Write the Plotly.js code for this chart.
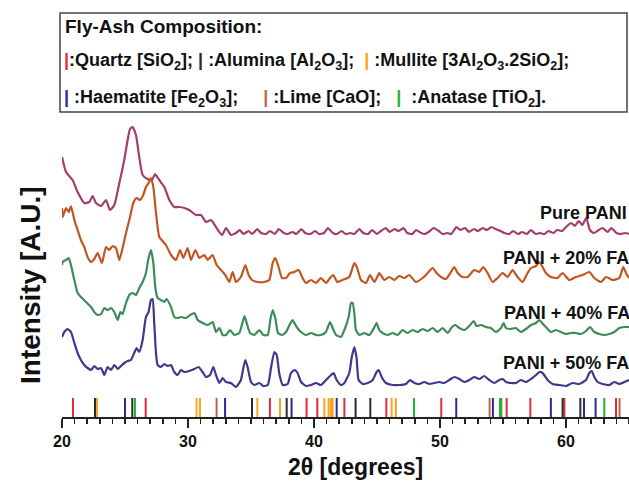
<!DOCTYPE html>
<html>
<head>
<meta charset="utf-8">
<script src="https://cdn.plot.ly/plotly-3.0.1.min.js"></script>
<style>html,body{margin:0;padding:0;background:#fff;}#chart{width:629px;height:487px;}</style>
</head>
<body>
<div id="chart"></div>
<script>
// ---- Data (2θ in degrees, intensity in arbitrary units, offset curves as in the figure) ----
const pureX = [20,20.32,20.84,21.24,21.77,22.17,22.43,22.7,23.1,23.49,23.81,24.15,24.55,24.94,25.21,25.4,25.6,25.87,26.13,26.4,26.79,27.14,27.38,27.72,28.12,28.52,28.91,29.31,29.71,30.1,30.63,31.03,31.43,31.83,32.22,32.7,33.02,33.41,
33.8,34.1,34.4,34.8,35.1,35.5,35.8,36.2,36.5,36.9,37.2,37.6,37.9,38.3,38.6,39.0,39.3,39.7,40.1,40.4,40.8,41.1,41.5,41.8,42.2,42.5,42.9,43.2,43.6,43.9,44.3,44.6,45.0,45.3,45.7,46.0,46.4,46.7,47.1,47.4,47.8,48.1,48.5,48.8,49.2,49.5,49.9,50.2,50.6,50.9,51.3,51.6,52.0,52.3,52.7,53.0,53.4,53.7,54.1,54.4,54.8,55.1,55.5,55.8,56.2,56.5,56.9,57.2,57.6,57.9,58.3,58.6,59.0,59.3,59.7,60.0,60.4,60.7,61.0,61.3,61.6,61.9,62.2,62.6,62.9,63.3,63.6,64.0,64.3,64.7,65.0];
const pureY = [260,245,237,225,214,215,221,214,211,217,207,212,234,257,277,288,290,282,260,242,238,237,243,237,230,217,210,210,209,207,202,202,195,197,190,182,189,182,
184,187,183,186,183,188,184,183,186,183,188,184,183,185,183,188,184,183,186,183,184,189,184,183,186,183,184,183,188,184,183,187,183,186,189,185,188,186,189,184,183,187,184,183,186,189,186,183,184,183,190,187,189,185,188,186,189,187,190,188,186,184,183,186,183,185,183,187,183,184,183,186,184,187,186,190,194,191,196,192,199,187,184,187,189,185,189,184,183,184,183];

const fa20X = [20,20.05,20.32,20.53,20.71,20.98,21.24,21.5,21.77,22.03,22.3,22.56,22.83,23.17,23.49,23.75,24.02,24.28,24.55,24.81,25.08,25.4,25.66,25.92,26.19,26.45,26.66,26.87,27.06,27.25,27.46,27.72,27.98,28.25,28.65,29.05,29.37,29.63,29.97,30.24,30.58,30.9,31.3,31.56,31.95,32.27,32.62,32.96,33.28,33.54,33.81,34.2,34.55,34.81,35.08,35.52,36.05,36.45,36.72,36.93,37.19,37.46,37.78,38.1,38.44,38.78,39.1,39.36,39.76,40.16,40.55,40.95,41.27,41.53,41.85,42.25,42.8,43.2,43.4,43.73,44.13,44.44,44.8,45.18,45.58,45.97,46.37,46.77,47.17,47.56,48.09,48.62,49.02,49.42,49.73,50.08,50.48,50.87,51.13,51.4,51.8,52.19,52.72,53.12,53.43,53.78,54.17,54.57,54.97,55.36,55.76,56.16,56.56,56.95,57.22,57.62,57.88,58.14,58.4,58.8,59.33,59.73,60.26,60.79,61.32,61.85,62.25,62.78,63.18,63.7,64.23,64.55,64.76,65];
const fa20Y = [209,200,209,205,211,197,187,177,170,160,155,158,164,154,170,167,171,169,157,169,184,200,214,219,217,222,230,234,239,230,204,180,176,172,162,157,167,159,169,157,167,159,162,157,162,152,147,142,135,145,135,140,152,142,137,135,135,137,154,159,150,139,139,144,145,147,139,134,137,134,139,134,139,142,135,137,140,154,150,137,134,142,135,144,137,140,137,141,139,142,135,139,144,149,144,140,138,145,150,144,140,140,147,145,150,144,135,139,144,140,147,140,135,144,149,151,155,150,144,140,139,144,137,140,142,145,139,135,140,137,139,150,144,139];

const fa40X = [20,20.05,20.32,20.53,20.71,20.98,21.24,21.5,21.9,22.3,22.56,22.83,23.1,23.36,23.62,23.89,24.15,24.42,24.63,24.81,25.08,25.34,25.6,25.87,26.13,26.4,26.66,26.87,27.06,27.25,27.4,27.59,27.85,28.12,28.3,28.65,28.91,29.18,29.44,29.84,30.18,30.5,30.77,31.16,31.56,31.96,32.22,32.49,32.75,33.02,33.33,33.67,34.07,34.34,34.49,34.68,34.92,35.26,35.66,35.98,36.33,36.53,36.72,36.93,37.14,37.46,37.78,38.1,38.3,38.62,38.97,39.36,39.76,40.16,40.55,40.95,41.27,41.48,41.75,42.14,42.41,42.75,42.94,43.07,43.2,43.33,43.6,44.0,44.4,44.8,44.97,45.18,45.45,45.84,46.24,46.64,47.03,47.43,47.83,48.22,48.62,49.02,49.42,49.81,50.21,50.61,50.95,51.22,51.53,51.93,52.33,52.67,52.9,53.25,53.65,54.04,54.44,54.84,55.05,55.23,55.63,56.03,56.42,56.82,57.22,57.62,57.88,58.1,58.4,58.8,59.2,59.6,60.0,60.39,60.79,61.19,61.59,61.9,62.25,62.65,63.05,63.44,63.84,64.23,64.63,65];
const fa40Y = [152,155,157,159,152,137,124,120,115,110,105,102,103,109,107,109,105,97,105,103,114,122,124,122,129,135,144,159,167,154,130,119,117,115,118,110,100,99,100,99,102,104,97,94,92,95,85,89,82,82,87,82,84,95,101,93,84,82,87,82,82,97,107,99,84,82,85,93,97,90,85,82,84,82,82,85,95,89,82,80,87,100,114,114,104,87,82,84,82,90,94,87,84,82,84,82,87,84,87,85,88,86,89,85,89,84,90,92,89,87,91,96,91,92,90,89,85,89,94,89,88,89,85,88,92,94,97,94,90,85,87,85,83,84,84,83,86,90,85,83,82,83,85,89,90,90];

const fa50X = [20,20.18,20.45,20.71,20.98,21.24,21.5,21.77,22.03,22.3,22.56,22.83,23.1,23.36,23.62,23.89,24.15,24.42,24.68,24.94,25.21,25.47,25.73,25.92,26.13,26.4,26.66,26.87,27.06,27.19,27.32,27.46,27.59,27.85,28.12,28.38,28.65,28.91,29.18,29.44,29.71,30.1,30.5,30.84,31.16,31.43,31.75,32.01,32.22,32.49,32.75,33.02,33.41,33.81,34.2,34.39,34.55,34.73,35.0,35.26,35.66,35.98,36.33,36.6,36.85,37.04,37.25,37.52,37.91,38.17,38.44,38.7,38.97,39.36,39.76,40.16,40.55,40.95,41.35,41.56,41.8,42.14,42.41,42.8,43.0,43.2,43.38,43.54,43.86,44.26,44.66,44.97,45.13,45.37,45.71,46.24,46.77,47.3,47.62,47.96,48.36,48.75,49.15,49.55,49.94,50.34,50.74,51.13,51.53,51.93,52.33,52.72,53.12,53.51,53.91,54.31,54.7,54.97,55.23,55.63,56.03,56.42,56.82,57.22,57.62,57.88,58.14,58.54,58.94,59.47,60.0,60.52,61.05,61.59,61.85,62.04,62.25,62.51,62.91,63.44,63.84,64.23,64.63,65];
const fa50Y = [80,85,88,85,74,64,57,52,49,47,51,48,49,42,50,47,52,48,51,54,56,57,64,69,65,77,100,105,117,118,94,64,52,50,53,51,52,45,42,47,45,46,48,50,45,40,42,50,42,34,39,35,34,30,37,49,57,50,35,32,34,31,32,50,65,62,43,32,33,44,47,44,35,31,32,34,32,37,42,44,37,32,34,44,60,70,59,37,33,34,37,45,47,40,34,32,32,33,37,34,33,35,33,34,35,34,37,40,38,35,37,40,38,41,37,34,37,38,35,34,34,37,35,38,42,45,44,37,33,32,31,34,33,37,44,46,40,35,33,32,35,33,35,37];

// Reference-pattern positions of fly-ash phases (2θ, degrees)
const quartzPos   = [20.87,26.64,36.5,39.41,40.26,42.41,45.74,50.1,55.29,57.17,59.87,63.97];
const aluminaPos  = [22.62,25.58,35.08,37.83,43.3,44.47,59.73,61.14];
const mullitePos  = [22.78,30.68,30.95,35.5,37.3,40.82,41.16,41.35,41.48,46.16,46.5];
const haematitePos= [25.0,32.94,38.22,41.8,51.29,54.2,58.8,61.43,62.35];
const limePos     = [32.27,53.94,64.25];
const anatasePos  = [25.79,47.94,54.76,54.87,63.04];

const seriesNames = ['Pure PANI','PANI + 20% FA','PANI + 40% FA','PANI + 50% FA'];
const xTickVals = [20,30,40,50,60];

// ---- Styling / layout helpers ----
const L = 62, R = 0, T = 10, B = 70, W = 629, H = 487;
const PW = W - L - R, PH = H - T - B;
const px2x = px => (px - L) / PW;            // pixel -> paper x
const py2y = py => (H - B - py) / PH;        // pixel -> paper y
const FONT = 'Liberation Sans, Arial, sans-serif';

function stickTrace(pos, color, name) {
  const xs = [], ys = [];
  pos.forEach(p => { xs.push(p, p, null); ys.push(0, 19, null); });
  return {x: xs, y: ys, mode: 'lines', line: {color: color, width: 2}, name: name,
          hoverinfo: 'skip', showlegend: false, cliponaxis: false};
}

const colors = {pure:'#a53d6c', fa20:'#c1561f', fa40:'#3d8b58', fa50:'#40388c'};
const lineStyle = c => ({color: c, width: 2.2, shape: 'spline', smoothing: 0.5});
const traces = [
  {x: pureX, y: pureY, mode:'lines', line: lineStyle(colors.pure), name: seriesNames[0]},
  {x: fa20X, y: fa20Y, mode:'lines', line: lineStyle(colors.fa20), name: seriesNames[1]},
  {x: fa40X, y: fa40Y, mode:'lines', line: lineStyle(colors.fa40), name: seriesNames[2]},
  {x: fa50X, y: fa50Y, mode:'lines', line: lineStyle(colors.fa50), name: seriesNames[3]},
  stickTrace(quartzPos, '#e8283c', 'Quartz'),
  stickTrace(aluminaPos, '#2a2a2a', 'Alumina'),
  stickTrace(mullitePos, '#f8a41e', 'Mullite'),
  stickTrace(haematitePos, '#2a2a98', 'Haematite'),
  stickTrace(limePos, '#b9694a', 'Lime'),
  stickTrace(anatasePos, '#22b43a', 'Anatase')
];

const C = {red:'#e8283c', blk:'#2a2a2a', org:'#f8a41e', blu:'#2a2a98', lime:'#b9694a', grn:'#22b43a'};
const bar = c => '<span style="color:' + c + '">|</span>';
const legLine1 = 'Fly-Ash Composition:';
const legLine2 = bar(C.red) + ':Quartz [SiO<sub>2</sub>]; ' + bar(C.blk) + ' :Alumina [Al<sub>2</sub>O<sub>3</sub>];&nbsp; ' + bar(C.org) + ' :Mullite [3Al<sub>2</sub>O<sub>3</sub>.2SiO<sub>2</sub>];';
const legLine3 = bar(C.blu) + ' :Haematite [Fe<sub>2</sub>O<sub>3</sub>];&nbsp;&nbsp;&nbsp;&nbsp; ' + bar(C.lime) + ' :Lime [CaO];&nbsp;&nbsp; ' + bar(C.grn) + '&nbsp; :Anatase [TiO<sub>2</sub>].';

const labelFont = {family: FONT, size: 18, color: '#111', weight: 'bold'};
const legFont = {family: FONT, size: 18, color: '#111', weight: 'bold'};

const annotations = [
  {x: 57.8, y: 204, xref:'x', yref:'y', text: seriesNames[0], showarrow:false, xanchor:'left', yanchor:'middle', font: labelFont},
  {x: 54.87, y: 159, xref:'x', yref:'y', text: seriesNames[1], showarrow:false, xanchor:'left', yanchor:'middle', font: labelFont},
  {x: 54.95, y: 104, xref:'x', yref:'y', text: seriesNames[2], showarrow:false, xanchor:'left', yanchor:'middle', font: labelFont},
  {x: 54.87, y: 54, xref:'x', yref:'y', text: seriesNames[3], showarrow:false, xanchor:'left', yanchor:'middle', font: labelFont},
  {x: px2x(63), y: py2y(27), xref:'paper', yref:'paper', text: legLine1, showarrow:false, xanchor:'left', yanchor:'middle', font: {family: FONT, size: 19, color:'#111', weight:'bold'}},
  {x: px2x(62), y: py2y(62), xref:'paper', yref:'paper', text: legLine2, showarrow:false, xanchor:'left', yanchor:'middle', font: legFont},
  {x: px2x(62), y: py2y(98), xref:'paper', yref:'paper', text: legLine3, showarrow:false, xanchor:'left', yanchor:'middle', font: legFont},
  {x: px2x(30), y: py2y(285), xref:'paper', yref:'paper', text: 'Intensity [A.U.]', textangle: -90, showarrow:false, xanchor:'center', yanchor:'middle', font: {family: FONT, size: 28, color:'#111', weight:'bold'}},
  {x: px2x(355), y: py2y(467), xref:'paper', yref:'paper', text: '2θ [degrees]', showarrow:false, xanchor:'center', yanchor:'middle', font: {family: FONT, size: 23, color:'#111', weight:'bold'}}
];

const layout = {
  width: W, height: H,
  margin: {l: L, r: R, t: T, b: B, pad: 0},
  paper_bgcolor: '#fff', plot_bgcolor: '#fff',
  showlegend: false,
  xaxis: {
    range: [20, 65], tickvals: xTickVals, ticktext: xTickVals.map(String),
    ticks: 'outside', ticklen: 9, tickwidth: 2, tickcolor: '#222',
    showline: true, linewidth: 2, linecolor: '#222', showgrid: false, zeroline: false,
    minor: {dtick: 1, tick0: 20, ticks: 'outside', ticklen: 5, tickwidth: 1.5, tickcolor: '#222', showgrid: false},
    tickfont: {family: FONT, size: 16, color: '#111', weight: 'bold'}
  },
  yaxis: {range: [0, PH], visible: false, showgrid: false, zeroline: false, fixedrange: true},
  shapes: [
    {type: 'rect', xref: 'paper', yref: 'paper', x0: px2x(60), x1: px2x(627), y0: py2y(112), y1: py2y(13),
     line: {color: '#444', width: 1.5}, fillcolor: 'rgba(0,0,0,0)'}
  ],
  annotations: annotations
};

Plotly.newPlot('chart', traces, layout, {displayModeBar: false, staticPlot: true});
</script>
</body>
</html>
